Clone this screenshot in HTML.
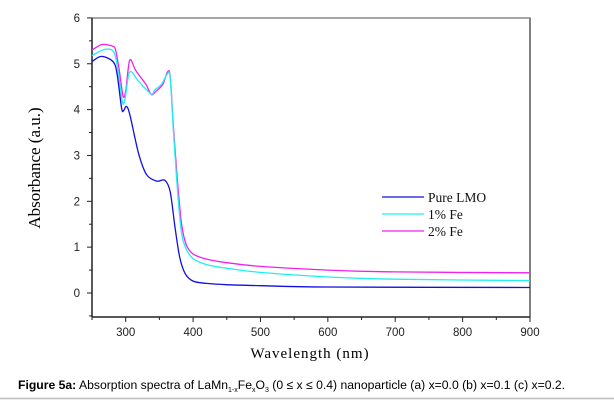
<!DOCTYPE html>
<html><head><meta charset="utf-8"><style>
html,body{margin:0;padding:0;background:#fff;}
svg{display:block;}
</style></head><body>
<svg id="chart" width="614" height="401" viewBox="0 0 614 401" xmlns="http://www.w3.org/2000/svg">
<g id="axes"></g>
<g id="series"></g>
<g id="legend"></g>
<text x="310" y="358" text-anchor="middle" font-family="Liberation Serif, serif" font-size="15" letter-spacing="1">Wavelength (nm)</text>
<text transform="translate(40,168) rotate(-90)" text-anchor="middle" font-family="Liberation Serif, serif" font-size="17">Absorbance (a.u.)</text>
<text x="18" y="389" font-family="Liberation Sans, sans-serif" font-size="12.2"><tspan font-weight="bold">Figure 5a:</tspan> Absorption spectra of LaMn<tspan font-size="7" dy="3">1-x</tspan><tspan dy="-3">Fe</tspan><tspan font-size="7" dy="3">x</tspan><tspan dy="-3">O</tspan><tspan font-size="7" dy="3">3</tspan><tspan dy="-3"> (0 ≤ x ≤ 0.4) nanoparticle (a) x=0.0 (b) x=0.1 (c) x=0.2.</tspan></text>
<line x1="0" y1="398.5" x2="614" y2="398.5" stroke="#bbb" stroke-width="1.5"/>
</svg>
<script>
const wlPure = [250,264,281,287,294,297,301,306,319,331,346,358,366,373,380,388,400,420,450,500,600,900];
const absPure = [5.05,5.16,5.05,4.80,4.03,3.98,4.07,3.90,3.05,2.58,2.44,2.46,2.21,1.45,0.79,0.43,0.26,0.21,0.18,0.16,0.13,0.12];
const wlFe1 = [250,268,281,287,295,299,306,320,338,343,353,362,366,371,377,383,390,400,420,450,500,600,700,900];
const absFe1 = [5.18,5.31,5.28,5.0,4.18,4.22,4.82,4.6,4.34,4.43,4.55,4.78,4.7,3.5,2.2,1.3,0.95,0.75,0.62,0.54,0.45,0.35,0.30,0.27];
const wlFe2 = [250,265,281,285,290,296,300,306,315,330,338,345,355,362,366,371,377,383,390,400,420,450,500,600,700,900];
const absFe2 = [5.3,5.42,5.38,5.3,4.9,4.3,4.4,5.08,4.85,4.55,4.33,4.4,4.55,4.82,4.72,3.6,2.4,1.5,1.05,0.85,0.74,0.66,0.58,0.5,0.46,0.44];
const xTicks = [300,400,500,600,700,800,900];
const yTicks = [0,1,2,3,4,5,6];
const seriesNames = ["Pure LMO","1% Fe","2% Fe"];
const seriesColors = ["#1010e0","#20f0f0","#f020f0"];

const L=92,R=530,T=18,B=317;
const X=v=>L+(v-250)/650*(R-L);
const Y=v=>293-v*45.85;
const NS="http://www.w3.org/2000/svg";
function mk(tag,attrs,parent){const e=document.createElementNS(NS,tag);for(const k in attrs)e.setAttribute(k,attrs[k]);parent.appendChild(e);return e;}
const ax=document.getElementById('axes');
let f=mk('rect',{x:L,y:T,width:R-L,height:B-T,fill:'none',stroke:'#000','stroke-width':1},ax);


let tl=mk('line',{x1:L,y1:T,x2:R,y2:T,stroke:'#888','stroke-width':1.5},ax);


mk('line',{x1:L,y1:T,x2:L,y2:B,stroke:'#222','stroke-width':1.5},ax);
mk('line',{x1:L,y1:B,x2:R,y2:B,stroke:'#222','stroke-width':1.5},ax);
for(let v=250;v<=900;v+=50){mk('line',{x1:X(v),y1:B,x2:X(v),y2:B+(v%100===0?5:3),stroke:'#222'},ax);}
xTicks.forEach(v=>{const t=mk('text',{x:X(v),y:B+19,'text-anchor':'middle','font-family':'Liberation Sans, sans-serif','font-size':11.5,fill:'#222'},ax);t.textContent=v;

});
for(let v=-0.5;v<=6;v+=0.5){mk('line',{x1:L,y1:Y(v),x2:L-(Number.isInteger(v)?5:3),y2:Y(v),stroke:'#222'},ax);}
yTicks.forEach(v=>{const t=mk('text',{x:L-12,y:Y(v)+4,'text-anchor':'end','font-family':'Liberation Sans, sans-serif','font-size':11.5,fill:'#222'},ax);t.textContent=v;

});
function smooth(pts){let d='M'+pts[0][0].toFixed(1)+','+pts[0][1].toFixed(1);
for(let i=0;i<pts.length-1;i++){const p0=pts[Math.max(0,i-1)],p1=pts[i],p2=pts[i+1],p3=pts[Math.min(pts.length-1,i+2)];
const k=0.15;
const c1=[p1[0]+(p2[0]-p0[0])*k,p1[1]+(p2[1]-p0[1])*k];
const c2=[p2[0]-(p3[0]-p1[0])*k,p2[1]-(p3[1]-p1[1])*k];
d+=' C'+c1.map(v=>v.toFixed(1)).join(',')+' '+c2.map(v=>v.toFixed(1)).join(',')+' '+p2[0].toFixed(1)+','+p2[1].toFixed(1);}
return d;}
const sg=document.getElementById('series');
const data=[[wlPure,absPure],[wlFe1,absFe1],[wlFe2,absFe2]];
const order=[2,1,0];
order.forEach(i=>{const [w,a]=data[i];
const p=mk('path',{d:smooth(w.map((x,j)=>[X(x),Y(a[j])])),fill:'none',stroke:seriesColors[i],'stroke-width':1.3,'stroke-linejoin':'round'},sg);

});
const lg=document.getElementById('legend');
seriesNames.forEach((n,i)=>{const y=197+i*17;
const l=mk('line',{x1:382,y1:y,x2:424,y2:y,stroke:seriesColors[i],'stroke-width':1.3},lg);


const t=mk('text',{x:428,y:y+5,'font-family':'Liberation Serif, serif','font-size':13.5,fill:'#111'},lg);t.textContent=n;

});
</script>
</body></html>
